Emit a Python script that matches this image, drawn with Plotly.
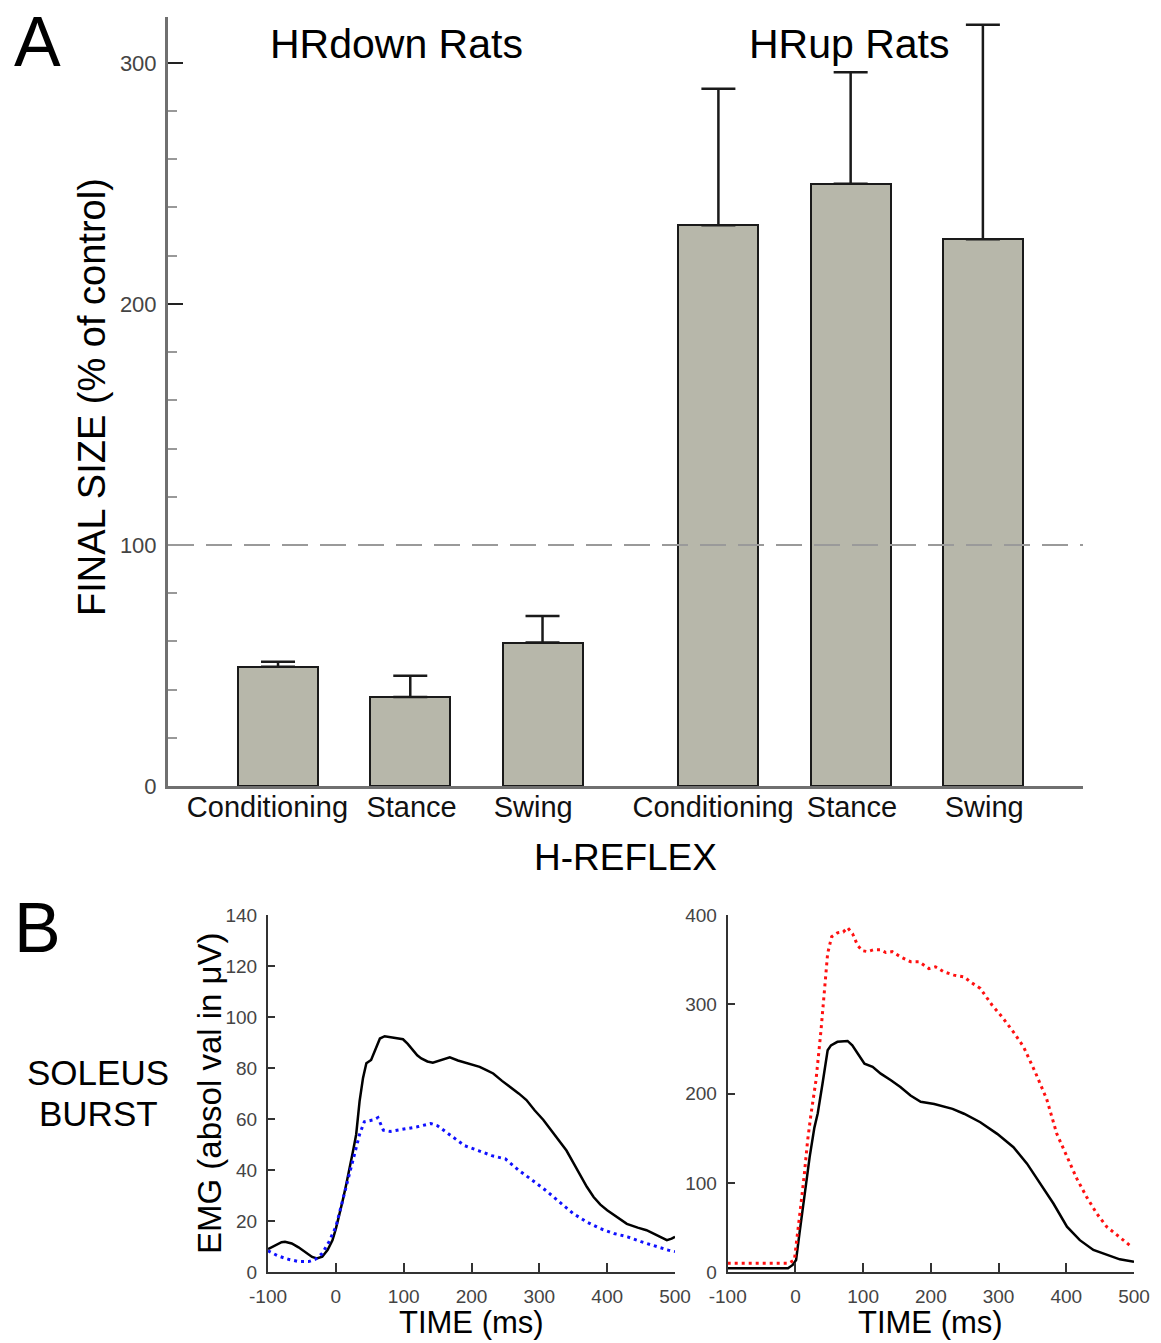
import plotly.graph_objects as go

W, H = 1161, 1343

# ---------------- Panel A data ----------------
bar_labels = ["Conditioning", "Stance", "Swing", "Conditioning", "Stance", "Swing"]
bar_pos = [0, 1, 2, 3.33, 4.33, 5.33]
bar_values = [49.5, 36.9, 59.5, 232.6, 249.8, 226.8]
bar_err = [2.0, 8.8, 11.0, 56.6, 46.3, 89.0]
a_yticks = [0, 100, 200, 300]

# ---------------- Panel B data ----------------
hrdown_before_t = [-100, -90, -80, -75, -65, -55, -45, -35, -28, -20, -12, -5, 0, 5, 10, 15, 20, 25,
                   30, 35, 40, 45, 52, 58, 65, 72, 85, 99, 106, 114, 120, 126, 135, 143, 155, 168,
                   180, 193, 212, 222, 232, 245, 257, 270, 281, 293, 306, 318, 326, 340, 350, 360,
                   370, 380, 390, 400, 415, 429, 445, 458, 470, 480, 488, 495, 500]
hrdown_before_v = [9.1, 10.5, 11.8, 12, 11.3, 9.8, 7.8, 6, 5.4, 6.1, 8.8, 12.5, 17, 22, 28, 34, 40, 47,
                   54, 67, 76, 81.9, 83.2, 87, 91.6, 92.5, 92, 91.3, 89.5, 87, 85, 83.8, 82.6, 82.1, 83, 84.2,
                   83, 82.1, 80.5, 79.2, 77.9, 75, 72.7, 70, 67.5, 63.5, 59.7, 55.5, 52.5, 47.7, 43, 38,
                   33.5, 29.5, 26.5, 24.3, 21.5, 19, 17.5, 16.5, 15, 13.8, 12.6, 13.2, 13.9]

hrdown_after_t = [-100, -85, -70, -55, -40, -30, -20, -10, 0, 10, 20, 30, 35, 42, 55, 62, 70, 80, 100,
                  120, 140, 150, 170, 190, 210, 230, 250, 270, 290, 310, 330, 350, 370, 390, 410,
                  430, 450, 470, 490, 500]
hrdown_after_v = [8.4, 6.4, 5.1, 4.2, 4.2, 5.1, 7.4, 12, 17.8, 28, 39, 49, 54, 59, 59.7, 60.6, 55.7, 55.2, 56,
                  57, 58.3, 57.4, 53.5, 49.6, 47.7, 45.7, 44.4, 39.9, 36, 32, 27.5, 23, 19.7, 17.1, 15.2,
                  13.9, 12, 10.3, 8.7, 8.1]

hrup_before_t = [-100, -50, -20, -11, -4, 1, 6, 13, 21, 28, 33, 40, 47.6, 52.5, 62, 77, 84, 92, 102,
                 114, 126, 141, 155, 170, 185, 205, 219, 232, 249, 273, 298, 322, 342, 362, 381,
                 401, 420, 440, 460, 479, 500]
hrup_before_v = [4.5, 4.5, 4.5, 4.5, 8.2, 13.8, 43.5, 84.4, 129, 162, 178, 211, 248.6, 254, 258, 259, 254, 245, 233.6,
                 230, 222.4, 215, 207.5, 198, 191, 188.5, 186, 183, 177.5, 168, 155, 140, 121.6, 99, 77,
                 51, 36, 25, 19.3, 14.5, 11.9]

hrup_after_t = [-100, -50, -10, -1.5, 3.4, 8.3, 13.2, 18, 23, 30.4, 37.8, 42.7, 47.6, 53.5, 62, 70.6, 77,
                84.4, 91.8, 99, 106.5, 115, 126, 133.5, 143, 155.5, 170, 182.5, 197, 207, 219, 234,
                249, 258.6, 273, 290.5, 305, 322, 337, 354, 371, 386, 401, 415.6, 430, 445, 459.7,
                474.5, 494]
hrup_after_v = [10, 10, 10, 13.8, 43.5, 77, 110, 147.6, 177, 215, 271, 312, 357, 375.7, 380, 381, 386,
                379, 366, 360, 359, 361, 361, 358, 359, 353, 347.7, 347.7, 340, 342, 336.4, 332.7,
                330.8, 325, 317.8, 299, 286, 269, 252.3, 224.3, 194, 155, 129, 104.8, 84.4, 65.8, 51,
                41.6, 30]

left_yticks = [0, 20, 40, 60, 80, 100, 120, 140]
right_yticks = [0, 100, 200, 300, 400]
time_ticks = [-100, 0, 100, 200, 300, 400, 500]
time_ticktext = ["-100", "0", "100", "200", "300", "400", "500"]

FONT = "Liberation Sans, Arial, sans-serif"

# small horizontal nudges of category labels relative to their bars (layout only)
label_nudge = [-0.08, 0.01, -0.07, -0.04, 0.01, 0.01]
label_pos = [p + d for p, d in zip(bar_pos, label_nudge)]


def px(x):
    return x / W


def py(y):
    return 1 - y / H


fig = go.Figure()

# Panel A bars
fig.add_trace(go.Bar(
    x=bar_pos, y=bar_values, width=0.605,
    marker=dict(color="#b7b7aa", line=dict(color="#1a1a1a", width=2)),
    error_y=dict(type="data", array=bar_err, arrayminus=[0] * len(bar_err), symmetric=False,
                 color="#1a1a1a", thickness=2.5, width=17),
    xaxis="x", yaxis="y", showlegend=False,
))

# Panel B left
fig.add_trace(go.Scatter(x=hrdown_before_t, y=hrdown_before_v, mode="lines",
                         line=dict(color="#000000", width=2.5), xaxis="x2", yaxis="y2", showlegend=False))
fig.add_trace(go.Scatter(x=hrdown_after_t, y=hrdown_after_v, mode="lines",
                         line=dict(color="#1010ff", width=3, dash="3px,4px"), xaxis="x2", yaxis="y2",
                         showlegend=False))
# Panel B right
fig.add_trace(go.Scatter(x=hrup_before_t, y=hrup_before_v, mode="lines",
                         line=dict(color="#000000", width=2.5), xaxis="x3", yaxis="y3", showlegend=False))
fig.add_trace(go.Scatter(x=hrup_after_t, y=hrup_after_v, mode="lines",
                         line=dict(color="#ff1010", width=3, dash="3px,4px"), xaxis="x3", yaxis="y3",
                         showlegend=False))

axA_col = "#707070"
fig.update_layout(
    width=W, height=H,
    margin=dict(l=0, r=0, t=0, b=0, autoexpand=False),
    paper_bgcolor="white", plot_bgcolor="white",
    font=dict(family=FONT, color="#000"),
    bargap=0, showlegend=False,
    xaxis=dict(domain=[px(168), px(1083)], range=[-0.832, 6.087], anchor="y", automargin=False,
               tickmode="array", tickvals=label_pos, ticktext=bar_labels, ticks="",
               tickfont=dict(size=29, color="#111", family=FONT), ticklabelstandoff=-7,
               showline=True, linecolor=axA_col, linewidth=3, showgrid=False, zeroline=False),
    yaxis=dict(domain=[py(786), py(17)], range=[0, 319], anchor="x", automargin=False,
               tickmode="array", tickvals=a_yticks, ticks="inside", ticklen=15, tickwidth=2,
               tickcolor="#222", tickfont=dict(size=22, color="#444", family=FONT),
               ticklabelstandoff=4,
               minor=dict(dtick=20, ticks="inside", ticklen=9, tickwidth=2, tickcolor="#999", showgrid=False),
               showline=True, linecolor=axA_col, linewidth=3, showgrid=False, zeroline=False),
    xaxis2=dict(domain=[px(268), px(675)], range=[-100, 500], anchor="y2", automargin=False,
                tickmode="array", tickvals=time_ticks, ticktext=time_ticktext, ticks="inside", ticklen=9,
                tickwidth=2, tickcolor="#333", tickfont=dict(size=19, color="#444", family=FONT),
                ticklabelstandoff=6,
                showline=True, linecolor="#333", linewidth=2, showgrid=False, zeroline=False),
    yaxis2=dict(domain=[py(1272.3), py(915)], range=[0, 140], anchor="x2", automargin=False,
                tickmode="array", tickvals=left_yticks, ticks="inside", ticklen=7, tickwidth=2,
                tickcolor="#333", tickfont=dict(size=19, color="#444", family=FONT),
                ticklabelstandoff=5,
                showline=True, linecolor="#333", linewidth=2, showgrid=False, zeroline=False),
    xaxis3=dict(domain=[px(727.7), px(1134)], range=[-100, 500], anchor="y3", automargin=False,
                tickmode="array", tickvals=time_ticks, ticktext=time_ticktext, ticks="inside", ticklen=9,
                tickwidth=2, tickcolor="#333", tickfont=dict(size=19, color="#444", family=FONT),
                ticklabelstandoff=6,
                showline=True, linecolor="#333", linewidth=2, showgrid=False, zeroline=False),
    yaxis3=dict(domain=[py(1272.3), py(915)], range=[0, 400], anchor="x3", automargin=False,
                tickmode="array", tickvals=right_yticks, ticks="inside", ticklen=7, tickwidth=2,
                tickcolor="#333", tickfont=dict(size=19, color="#444", family=FONT),
                ticklabelstandoff=5,
                showline=True, linecolor="#333", linewidth=2, showgrid=False, zeroline=False),
)

# dashed reference line at 100%
fig.add_shape(type="line", xref="x domain", yref="y", x0=0, x1=1, y0=100, y1=100,
              line=dict(color="#9a9a9a", width=2, dash="26px,12px"), layer="above")

def ann(text, x, y, size, angle=0, color="#000"):
    fig.add_annotation(text=text, x=px(x), y=py(y), xref="paper", yref="paper",
                       xanchor="center", yanchor="middle", showarrow=False, textangle=angle,
                       font=dict(size=size, color=color, family=FONT))

ann("A", 37, 42, 70)
ann("B", 37, 928, 70)
ann("HRdown Rats", 396, 44, 41)
ann("HRup Rats", 849, 44, 41)
ann("FINAL SIZE (% of control)", 92, 397, 38, angle=-90)
ann("H-REFLEX", 625, 857, 37)
ann("SOLEUS", 98, 1072, 35)
ann("BURST", 98, 1113, 35)
ann("EMG (absol val in μV)", 209, 1093, 33, angle=-90)
ann("TIME (ms)", 471, 1322, 31)
ann("TIME (ms)", 930, 1322, 31)

fig.write_html("out.html", config={"displayModeBar": False},
               post_script="document.body.style.margin='0';document.body.style.overflow='hidden';")
